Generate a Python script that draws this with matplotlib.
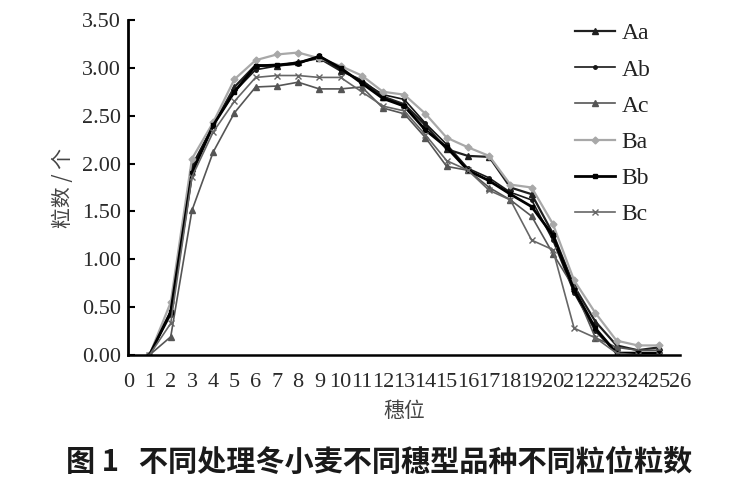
import numpy as np
import matplotlib
matplotlib.use("Agg")
import matplotlib.pyplot as plt

plt.rcParams['font.family'] = ['Liberation Serif', 'Noto Sans CJK SC']

# 穗位
positions = list(range(1, 26))

# 各处理的粒数
Aa = [0, 0.45, 1.95, 2.40, 2.80, 3.03, 3.02, 3.06, 3.10, 2.97, 2.87, 2.70, 2.62, 2.40, 2.15,
      2.08, 2.07, 1.75, 1.68, 1.27, 0.72, 0.35, 0.10, 0.05, 0.08]
Ab = [0, 0.42, 1.98, 2.40, 2.75, 2.98, 3.02, 3.04, 3.13, 2.98, 2.86, 2.72, 2.67, 2.42, 2.20,
      1.95, 1.85, 1.70, 1.62, 1.20, 0.65, 0.25, 0.02, 0.02, 0.02]
Ac = [0, 0.19, 1.51, 2.12, 2.53, 2.80, 2.81, 2.85, 2.78, 2.78, 2.80, 2.58, 2.52, 2.27, 1.97,
      1.93, 1.75, 1.62, 1.45, 1.06, 0.70, 0.18, 0.08, 0.05, 0.05]
Ba = [0, 0.55, 2.05, 2.43, 2.88, 3.08, 3.14, 3.16, 3.10, 3.02, 2.92, 2.75, 2.72, 2.52, 2.27,
      2.17, 2.08, 1.78, 1.75, 1.37, 0.78, 0.44, 0.15, 0.10, 0.10]
Bb = [0, 0.45, 1.90, 2.40, 2.75, 3.02, 3.03, 3.05, 3.12, 3.00, 2.84, 2.68, 2.60, 2.35, 2.17,
      1.93, 1.82, 1.68, 1.55, 1.25, 0.68, 0.28, 0.02, 0.02, 0.02]
Bc = [0, 0.33, 1.86, 2.33, 2.65, 2.90, 2.92, 2.92, 2.90, 2.90, 2.75, 2.60, 2.55, 2.30, 2.03,
      1.93, 1.72, 1.62, 1.20, 1.10, 0.28, 0.18, 0.02, 0.00, 0.00]

series = [("Aa", Aa), ("Ab", Ab), ("Ac", Ac), ("Ba", Ba), ("Bb", Bb), ("Bc", Bc)]
styles = {
    "Aa": dict(color="#202020", marker="^", lw=1.6, ms=5),
    "Ab": dict(color="#181818", marker="o", lw=1.2, ms=2.5),
    "Ac": dict(color="#555555", marker="^", lw=1.2, ms=4.5),
    "Ba": dict(color="#a8a8a8", marker="D", lw=1.6, ms=3.5),
    "Bb": dict(color="#000000", marker="s", lw=2.0, ms=3),
    "Bc": dict(color="#666666", marker="x", lw=1.2, ms=5),
}

fig = plt.figure(figsize=(7.5, 5), dpi=100)
ax = fig.add_axes([0.171, 0.29, 0.736, 0.67])

for name, vals in series:
    ax.plot(positions, vals, label=name, **styles[name])

ax.set_xlim(0, 26)
ax.set_ylim(0, 3.5)
ax.set_xticks(range(0, 27))
ax.set_yticks(np.arange(0, 3.51, 0.5))
ax.set_yticklabels([f"{v:.2f}" for v in np.arange(0, 3.51, 0.5)])
ax.tick_params(axis="y", direction="in", length=5, width=1.5, labelsize=16, pad=5)
ax.tick_params(axis="x", length=0, labelsize=16, pad=13)
for lab in ax.get_xticklabels() + ax.get_yticklabels():
    lab.set_color("#2a2a2a")

ax.spines["top"].set_visible(False)
ax.spines["right"].set_visible(False)
ax.spines["left"].set_linewidth(2)
ax.spines["bottom"].set_linewidth(1.8)

ax.set_xlabel("穗位", fontsize=15, family=["Noto Sans CJK SC"], color="#444444", labelpad=6)
ax.set_ylabel("粒数 / 个", fontsize=15, family=["Noto Sans CJK SC"], color="#444444", labelpad=6)

leg = ax.legend(loc="upper right", bbox_to_anchor=(0.985, 1.055), frameon=False,
                fontsize=17, labelspacing=0.62, handlelength=1.7, handletextpad=0.3)
for t in leg.get_texts():
    t.set_color("#222222")

fig.text(0.505, 0.076, "图 1   不同处理冬小麦不同穗型品种不同粒位粒数", ha="center", va="center",
         fontsize=21, fontweight="bold", family=["Noto Sans CJK SC"], color="#1a1a1a")

fig.savefig("out.png", dpi=100)
